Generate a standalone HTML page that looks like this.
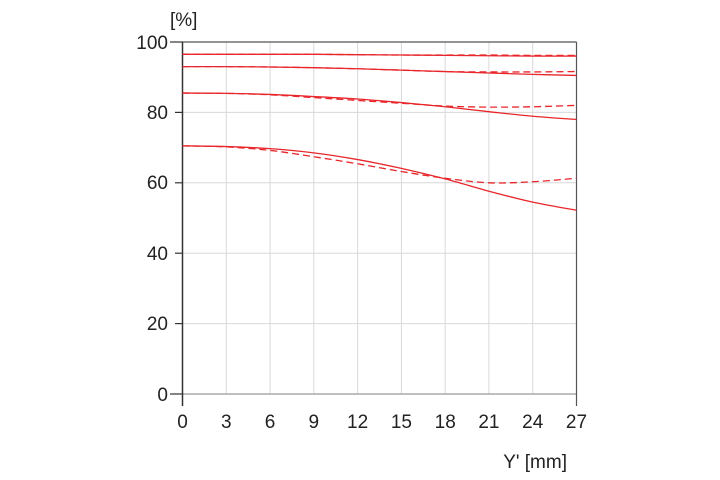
<!DOCTYPE html>
<html><head><meta charset="utf-8"><style>
html,body{margin:0;padding:0;background:#fff;width:720px;height:480px;overflow:hidden}
svg{display:block;font-family:"Liberation Sans",sans-serif}
</style></head><body>
<svg id="s" width="720" height="480" viewBox="0 0 720 480">
<g stroke="#d8d8d8" stroke-width="1">
<line x1="226.3" y1="42" x2="226.3" y2="394"/><line x1="270.1" y1="42" x2="270.1" y2="394"/>
<line x1="313.8" y1="42" x2="313.8" y2="394"/><line x1="357.6" y1="42" x2="357.6" y2="394"/>
<line x1="401.4" y1="42" x2="401.4" y2="394"/><line x1="445.2" y1="42" x2="445.2" y2="394"/>
<line x1="488.9" y1="42" x2="488.9" y2="394"/><line x1="532.7" y1="42" x2="532.7" y2="394"/>
<line x1="182.5" y1="112.4" x2="576.5" y2="112.4"/><line x1="182.5" y1="182.8" x2="576.5" y2="182.8"/>
<line x1="182.5" y1="253.2" x2="576.5" y2="253.2"/><line x1="182.5" y1="323.6" x2="576.5" y2="323.6"/>
</g>
<line x1="182.5" y1="394" x2="576.5" y2="394" stroke="#aaa" stroke-width="1.5"/>
<line x1="182.5" y1="42" x2="576.5" y2="42" stroke="#555" stroke-width="1.2"/>
<line x1="182.5" y1="42" x2="182.5" y2="406" stroke="#333" stroke-width="1.5"/>
<line x1="576.5" y1="42" x2="576.5" y2="406" stroke="#555" stroke-width="1.2"/>
<g stroke="#333" stroke-width="1.2">
<line x1="170" y1="42" x2="182.5" y2="42"/><line x1="170" y1="394" x2="182.5" y2="394"/>
<line x1="175" y1="112.4" x2="182.5" y2="112.4"/><line x1="175" y1="182.8" x2="182.5" y2="182.8"/>
<line x1="175" y1="253.2" x2="182.5" y2="253.2"/><line x1="175" y1="323.6" x2="182.5" y2="323.6"/>
</g>
<g id="curves" fill="none" stroke="#e8262b" stroke-width="1.3"></g>
<g font-size="19" fill="#222" text-anchor="end">
<text x="168" y="49">100</text><text x="168" y="119">80</text><text x="168" y="189">60</text>
<text x="168" y="260">40</text><text x="168" y="330">20</text><text x="168" y="401">0</text>
</g>
<text x="170" y="26" font-size="19" fill="#222">[%]</text>
<g font-size="19" fill="#222" text-anchor="middle">
<text x="182.5" y="428">0</text><text x="226.3" y="428">3</text><text x="270.1" y="428">6</text>
<text x="313.8" y="428">9</text><text x="357.6" y="428">12</text><text x="401.4" y="428">15</text>
<text x="445.2" y="428">18</text><text x="488.9" y="428">21</text><text x="532.7" y="428">24</text>
<text x="576.5" y="428">27</text>
</g>
<text x="567" y="468" font-size="19" fill="#222" text-anchor="end">Y' [mm]</text>
</svg>
<script>
var X=function(v){return 182.5+v*14.593},Y=function(v){return 394-v*3.52};
var xs=[0,3,6,9,12,15,18,21,24,27];
var data=[
[[96.5,96.5,96.5,96.5,96.4,96.3,96.2,96.1,96,96],0],
[[96.5,96.5,96.5,96.5,96.4,96.3,96.3,96.3,96.2,96.2],1],
[[93,93,92.9,92.7,92.4,92,91.6,91.2,90.8,90.5],0],
[[93,93,92.9,92.7,92.4,92,91.6,91.5,91.5,91.6],1],
[[85.5,85.4,85.1,84.5,83.8,82.8,81.6,80.2,78.9,78],0],
[[85.5,85.4,85,84.2,83.4,82.6,81.8,81.5,81.6,82],1],
[[70.5,70.3,69.7,68.5,66.6,64.1,61.1,57.6,54.5,52.2],0],
[[70.5,70.2,69.2,67.4,65.4,63.2,61.3,60,60.3,61.3],1]];
var g=document.getElementById('curves');
data.forEach(function(d){
 var p=d[0].map(function(v,i){return [X(xs[i]),Y(v)]});
 var s='M'+p[0][0]+','+p[0][1];
 for(var i=0;i<p.length-1;i++){
  var p0=p[Math.max(i-1,0)],p1=p[i],p2=p[i+1],p3=p[Math.min(i+2,p.length-1)];
  s+=' C'+(p1[0]+(p2[0]-p0[0])/6)+','+(p1[1]+(p2[1]-p0[1])/6)+' '+(p2[0]-(p3[0]-p1[0])/6)+','+(p2[1]-(p3[1]-p1[1])/6)+' '+p2[0]+','+p2[1];
 }
 var e=document.createElementNS('http://www.w3.org/2000/svg','path');
 e.setAttribute('d',s);
 if(d[1])e.setAttribute('stroke-dasharray','7,4');
 g.appendChild(e);
});
</script>
</body></html>
